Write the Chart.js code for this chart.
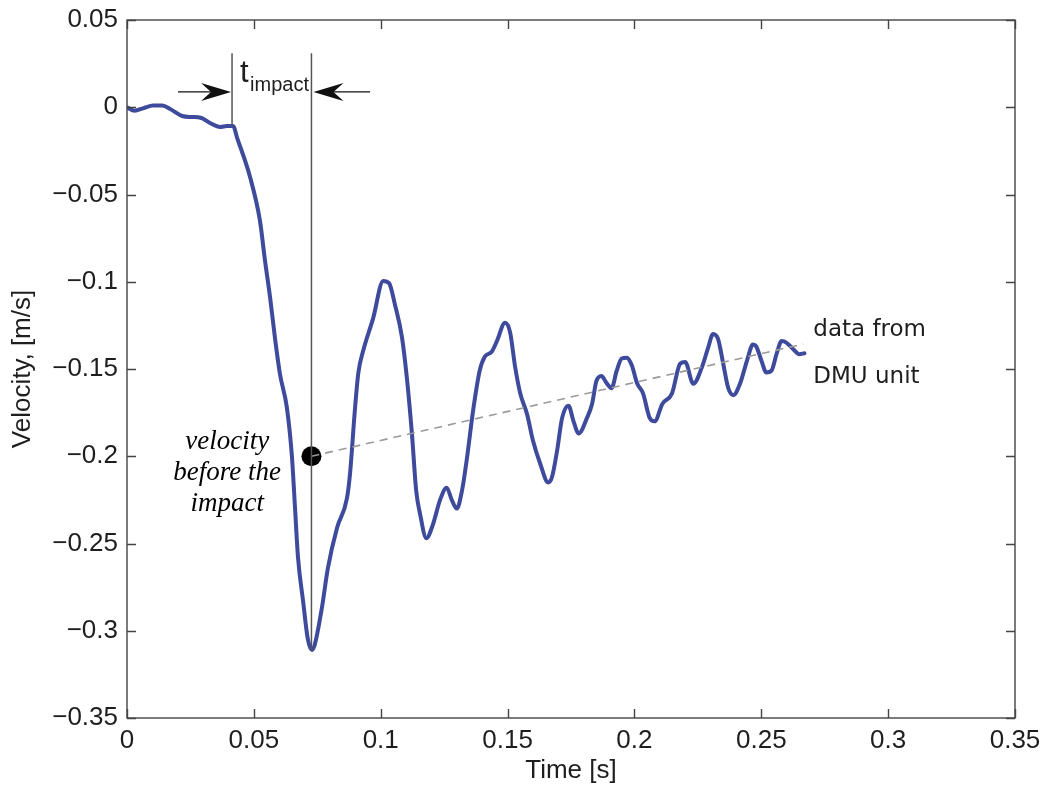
<!DOCTYPE html>
<html>
<head>
<meta charset="utf-8">
<script src="https://cdn.jsdelivr.net/npm/chart.js@4.4.1/dist/chart.umd.min.js"></script>
<style>
    html, body { margin: 0; padding: 0; background: #fff; }
</style>
</head>
<body>
<canvas id="velChart" width="1044" height="789"></canvas>
<script>
// DMU velocity trace
const time = [
    0, 0.003, 0.0065, 0.0103, 0.014, 0.017, 0.0217, 0.0256, 0.029, 0.0327,
    0.0367, 0.0394, 0.0418, 0.0434, 0.0485, 0.0524, 0.0544, 0.0564, 0.0583, 0.0603,
    0.063, 0.065, 0.0662, 0.0674, 0.0694, 0.0713, 0.0729, 0.074, 0.0768, 0.0792,
    0.0828, 0.0867, 0.0879, 0.0899, 0.0912, 0.093, 0.097, 0.101, 0.1033, 0.1056,
    0.1084, 0.1103, 0.1123, 0.114, 0.1155, 0.118, 0.1206, 0.1234, 0.126, 0.128,
    0.130, 0.132, 0.134, 0.1364, 0.139, 0.141, 0.1438, 0.1458, 0.149, 0.151,
    0.153, 0.155, 0.1577, 0.160, 0.1628, 0.166, 0.1675, 0.1695, 0.1715, 0.174,
    0.176, 0.178, 0.1813, 0.1833, 0.185, 0.187, 0.189, 0.191, 0.193, 0.195,
    0.197, 0.199, 0.201, 0.2034, 0.206, 0.208, 0.211, 0.2148, 0.218, 0.220,
    0.2232, 0.2266, 0.229, 0.231, 0.233, 0.235, 0.237, 0.239, 0.2416, 0.2444,
    0.2467, 0.248, 0.250, 0.252, 0.254, 0.256, 0.258, 0.260, 0.2625, 0.265,
    0.267
];
const velocity = [
    0, -0.002, -0.0005, 0.001, 0.001, -0.001, -0.005, -0.0056, -0.006, -0.009,
    -0.0113, -0.0107, -0.0107, -0.0175, -0.040, -0.065, -0.088, -0.109, -0.132, -0.153,
    -0.172, -0.200, -0.229, -0.258, -0.283, -0.305, -0.311, -0.308, -0.287, -0.264,
    -0.241, -0.224, -0.210, -0.172, -0.152, -0.140, -0.121, -0.0995, -0.1008, -0.113,
    -0.132, -0.155, -0.187, -0.220, -0.233, -0.247, -0.239, -0.225, -0.218, -0.225,
    -0.230, -0.220, -0.201, -0.174, -0.151, -0.143, -0.140, -0.134, -0.1235, -0.129,
    -0.149, -0.164, -0.176, -0.191, -0.204, -0.215, -0.212, -0.197, -0.178, -0.171,
    -0.180, -0.187, -0.178, -0.170, -0.157, -0.154, -0.158, -0.161, -0.151, -0.144,
    -0.1435, -0.148, -0.158, -0.164, -0.178, -0.180, -0.170, -0.164, -0.147, -0.146,
    -0.1585, -0.149, -0.138, -0.130, -0.133, -0.147, -0.161, -0.165, -0.1585, -0.145,
    -0.136, -0.137, -0.145, -0.152, -0.151, -0.1415, -0.134, -0.135, -0.1385, -0.1415,
    -0.141
];

const xTicks = [0, 0.05, 0.1, 0.15, 0.2, 0.25, 0.3, 0.35];
const yTicks = [-0.35, -0.3, -0.25, -0.2, -0.15, -0.1, -0.05, 0, 0.05];

// annotation anchors (data units)
const impactStart = 0.0414;
const impactEnd = 0.0727;
const markerTop = 0.031;
const arrowLevel = 0.0088;
const impactVelocity = -0.2;
const dmuTrendEnd = { x: 0.2665, y: -0.1357 };

const fmt = v => {
    const r = Math.round(v * 100) / 100;
    if (r === 0) return '0';
    return (r < 0 ? '\u2212' : '') + String(Math.abs(r));
};

const axisFont = { family: '"Liberation Sans", Arial, sans-serif', size: 26 };
const inkColor = '#1e1e1e';

const drawArrowHead = (ctx, tipX, y, dir) => {
    // matlab style notched head, dir = +1 points right, -1 points left
    const len = 30, half = 9, notch = 10;
    ctx.beginPath();
    ctx.moveTo(tipX, y);
    ctx.lineTo(tipX - dir * len, y - half);
    ctx.lineTo(tipX - dir * (len - notch), y);
    ctx.lineTo(tipX - dir * len, y + half);
    ctx.closePath();
    ctx.fill();
};

const overlay = {
    id: 'overlay',
    afterDraw(chart) {
        const { ctx, chartArea: a, scales: { x, y } } = chart;
        ctx.save();

        // frame with inward ticks on all sides
        ctx.strokeStyle = '#444';
        ctx.lineWidth = 1.4;
        ctx.strokeRect(a.left, a.top, a.right - a.left, a.bottom - a.top);
        const tl = 9;
        ctx.beginPath();
        xTicks.forEach(v => {
            const px = Math.round(x.getPixelForValue(v)) + 0.5;
            ctx.moveTo(px, a.bottom); ctx.lineTo(px, a.bottom - tl);
            ctx.moveTo(px, a.top); ctx.lineTo(px, a.top + tl);
        });
        yTicks.forEach(v => {
            const py = Math.round(y.getPixelForValue(v)) + 0.5;
            ctx.moveTo(a.left, py); ctx.lineTo(a.left + tl, py);
            ctx.moveTo(a.right, py); ctx.lineTo(a.right - tl, py);
        });
        ctx.stroke();

        // t_impact arrows
        const ay = y.getPixelForValue(arrowLevel);
        const xs = x.getPixelForValue(impactStart);
        const xe = x.getPixelForValue(impactEnd);
        ctx.strokeStyle = '#111';
        ctx.fillStyle = '#111';
        ctx.lineWidth = 1.4;
        ctx.beginPath();
        ctx.moveTo(x.getPixelForValue(0.0201), ay); ctx.lineTo(xs - 8, ay);
        ctx.moveTo(x.getPixelForValue(0.0958), ay); ctx.lineTo(xe + 8, ay);
        ctx.stroke();
        drawArrowHead(ctx, xs - 1, ay, 1);
        drawArrowHead(ctx, xe + 2, ay, -1);

        // t_impact label
        ctx.fillStyle = inkColor;
        ctx.textBaseline = 'alphabetic';
        ctx.textAlign = 'left';
        ctx.font = '31px "Liberation Sans", Arial, sans-serif';
        ctx.fillText('t', xs + 8, 82);
        ctx.font = '20px "Liberation Sans", Arial, sans-serif';
        ctx.fillText('impact', xs + 18, 91);

        // velocity note
        ctx.fillStyle = '#000';
        ctx.font = 'italic 27px "Liberation Serif", "Times New Roman", serif';
        ctx.textAlign = 'center';
        const nx = x.getPixelForValue(0.0395);
        ctx.fillText('velocity', nx, 449);
        ctx.fillText('before the', nx, 480);
        ctx.fillText('impact', nx, 511);

        // DMU note
        ctx.fillStyle = inkColor;
        ctx.font = '23px "DejaVu Sans", sans-serif';
        ctx.textAlign = 'left';
        const dx = x.getPixelForValue(0.2705);
        ctx.fillText('data from', dx, 336);
        ctx.fillText('DMU unit', dx, 383);

        ctx.restore();
    }
};

new Chart(document.getElementById('velChart'), {
    type: 'scatter',
    data: {
        datasets: [
            {
                // vertical marker lines bounding t_impact
                data: [{ x: impactStart, y: markerTop }, { x: impactStart, y: -0.0107 }],
                showLine: true, borderColor: '#555', borderWidth: 1.5, pointRadius: 0
            },
            {
                data: [{ x: impactEnd, y: markerTop }, { x: impactEnd, y: -0.311 }],
                showLine: true, borderColor: '#555', borderWidth: 1.5, pointRadius: 0
            },
            {
                // trend of DMU data back to the impact point
                data: [{ x: impactEnd, y: impactVelocity }, dmuTrendEnd],
                showLine: true, borderColor: '#9a9a9a', borderWidth: 1.6,
                borderDash: [8, 6], pointRadius: 0
            },
            {
                label: 'Velocity',
                data: time.map((t, i) => ({ x: t, y: velocity[i] })),
                showLine: true,
                borderColor: '#3e4a9c',
                borderWidth: 4,
                pointRadius: 0,
                cubicInterpolationMode: 'monotone',
                borderJoinStyle: 'round',
                borderCapStyle: 'round'
            },
            {
                data: [{ x: impactEnd, y: impactVelocity }],
                pointRadius: 10, pointBackgroundColor: '#000', pointBorderWidth: 0
            }
        ]
    },
    options: {
        responsive: false,
        animation: false,
        layout: { padding: { top: 20, right: 29, left: 0, bottom: 0 } },
        plugins: { legend: { display: false }, tooltip: { enabled: false } },
        scales: {
            x: {
                type: 'linear',
                min: 0, max: 0.35,
                afterBuildTicks: s => { s.ticks = xTicks.map(v => ({ value: v })); },
                afterFit: s => { s.height = 71; s.paddingLeft = 0; s.paddingRight = 0; },
                grid: { display: false, drawTicks: false },
                border: { display: false },
                ticks: { padding: 7, color: inkColor, font: axisFont, callback: fmt, maxRotation: 0, autoSkip: false },
                title: { display: true, text: 'Time [s]', color: inkColor, font: axisFont, padding: { bottom: 3 } }
            },
            y: {
                type: 'linear',
                min: -0.35, max: 0.05,
                afterBuildTicks: s => { s.ticks = yTicks.map(v => ({ value: v })); },
                afterFit: s => { s.width = 127; s.paddingTop = 0; s.paddingBottom = 0; },
                grid: { display: false, drawTicks: false },
                border: { display: false },
                ticks: { padding: 9, color: inkColor, font: axisFont, callback: fmt, autoSkip: false },
                title: { display: true, text: 'Velocity, [m/s]', color: inkColor, font: axisFont, padding: { top: 7 } }
            }
        }
    },
    plugins: [overlay]
});
</script>
</body>
</html>
